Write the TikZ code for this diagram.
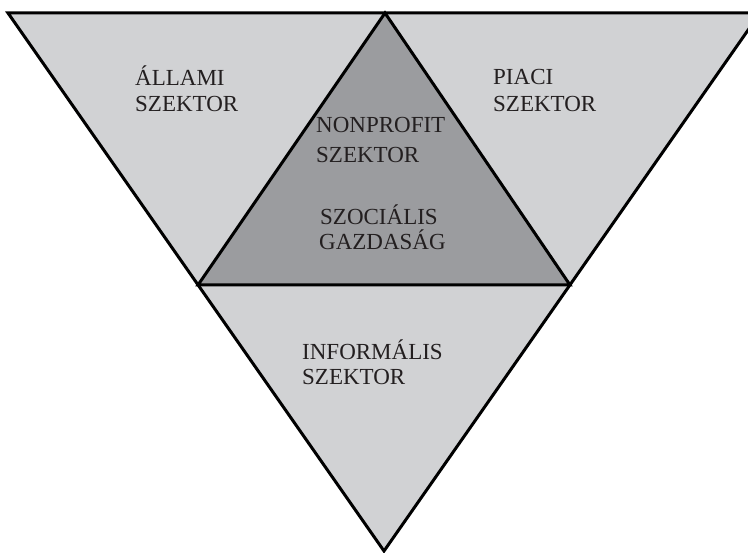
\documentclass[tikz,border=0pt]{standalone}
\usepackage{fontspec}
\setmainfont{Liberation Serif}
\definecolor{lightsec}{HTML}{D1D2D4}
\definecolor{darksec}{HTML}{9B9C9F}
\definecolor{txt}{HTML}{231F20}
\begin{document}
\begin{tikzpicture}[x=1pt,y=-1pt,
  lbl/.style={anchor=base west,inner sep=0pt,text=txt,font=\fontsize{23}{25}\selectfont},
  edge/.style={draw=black,line width=3pt,line join=miter}]
\useasboundingbox (0,0) rectangle (748,553);
\clip (0,0) rectangle (748,553);
\coordinate (TL) at (8,13);
\coordinate (TR) at (760,13);
\coordinate (B) at (384,551);
\coordinate (A) at (385,13);
\coordinate (L) at (198,285);
\coordinate (R) at (570,285);
\fill[lightsec] (TL) -- (TR) -- (B) -- cycle;
\fill[darksec] (A) -- (L) -- (R) -- cycle;
\draw[edge] (TL) -- (TR) -- (B) -- cycle;
\draw[edge] (A) -- (L) -- (R) -- cycle;
\node[lbl] (a1) at (135,86) {ÁLLAMI};
\node[lbl] (a2) at (135,112) {SZEKTOR};
\node[lbl] (p1) at (493,85) {PIACI};
\node[lbl] (p2) at (493,112) {SZEKTOR};
\node[lbl] (n1) at (316,133) {NONPROFIT};
\node[lbl] (n2) at (316,163) {SZEKTOR};
\node[lbl] (s1) at (320,225) {SZOCIÁLIS};
\node[lbl] (s2) at (319,250) {GAZDASÁG};
\node[lbl] (i1) at (302,360) {INFORMÁLIS};
\node[lbl] (i2) at (302,385) {SZEKTOR};
\end{tikzpicture}
\end{document}
